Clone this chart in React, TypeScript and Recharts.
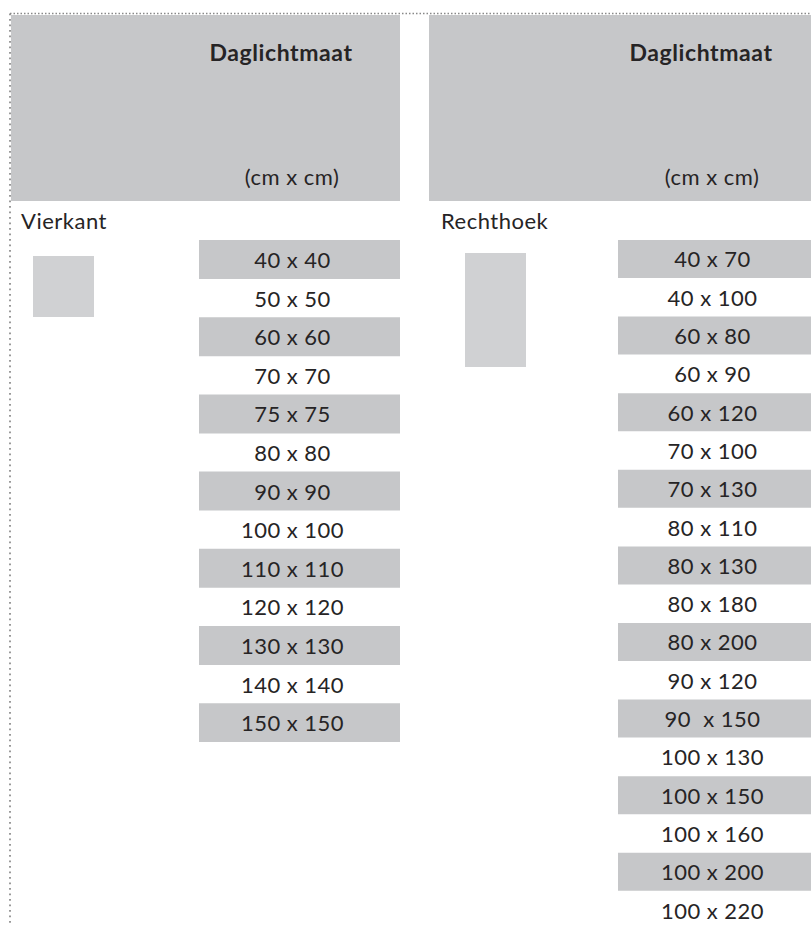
import React from "react";
import { BarChart, Bar, XAxis, YAxis, Cell, LabelList } from "recharts";

const headerTitle = "Daglichtmaat";
const headerUnit = "(cm x cm)";
const groupNames = ["Vierkant", "Rechthoek"];

const squareSizes = [
  "40 x 40", "50 x 50", "60 x 60", "70 x 70", "75 x 75", "80 x 80", "90 x 90",
  "100 x 100", "110 x 110", "120 x 120", "130 x 130", "140 x 140", "150 x 150",
];

const rectSizes = [
  "40 x 70", "40 x 100", "60 x 80", "60 x 90", "60 x 120", "70 x 100", "70 x 130",
  "80 x 110", "80 x 130", "80 x 180", "80 x 200", "90 x 120", "90  x 150",
  "100 x 130", "100 x 150", "100 x 160", "100 x 200", "100 x 220",
];

const GRAY = "#c6c7c9";
const ICON = "#d0d1d3";
const INK = "#262425";
const FONT = "Lato, 'Open Sans', sans-serif";

const toRows = (sizes: string[]) =>
  sizes.map((label, i) => ({ label, band: 1, shaded: i % 2 === 0 }));

type SizeTableProps = {
  sizes: string[];
  width: number;
  rowHeight: number;
  textShift: number;
};

function SizeTable({ sizes, width, rowHeight, textShift }: SizeTableProps) {
  const rows = toRows(sizes);
  return (
    <BarChart
      width={width}
      height={rowHeight * rows.length}
      data={rows}
      layout="vertical"
      margin={{ top: 0, right: 0, bottom: 0, left: 0 }}
      barCategoryGap={0}
      barGap={0}
    >
      <XAxis type="number" domain={[0, 1]} hide />
      <YAxis type="category" dataKey="label" hide />
      <Bar dataKey="band" isAnimationActive={false}>
        {rows.map((r, i) => (
          <Cell key={`row-${i}`} fill={r.shaded ? GRAY : "transparent"} />
        ))}
        <LabelList
          dataKey="label"
          content={(p: any) => (
            <text
              x={p.x + p.width / 2 + textShift}
              y={p.y + p.height / 2}
              textAnchor="middle"
              dominantBaseline="central"
              fontFamily={FONT}
              fontSize={22}
              letterSpacing={0.5}
              fill={INK}
              style={{ whiteSpace: "pre" }}
            >
              {p.value}
            </text>
          )}
        />
      </Bar>
    </BarChart>
  );
}

export default function App() {
  return (
    <div
      style={{
        position: "absolute",
        left: 0,
        top: 0,
        width: 811,
        height: 925,
        overflow: "hidden",
        background: "#fff",
      }}
    >
      <svg width={811} height={925} style={{ position: "absolute", left: 0, top: 0 }}>
        <line x1={10} y1={13.5} x2={811} y2={13.5} stroke="#888" strokeWidth={1.5} strokeDasharray="1.5 2" />
        <line x1={10} y1={13.5} x2={10} y2={925} stroke="#888" strokeWidth={1.7} strokeDasharray="1.7 3.8" />

        <rect x={11} y={15} width={389} height={186} fill={GRAY} />
        <rect x={429} y={15} width={382} height={186} fill={GRAY} />

        <text x={281} y={61} textAnchor="middle" fontFamily={FONT} fontWeight={700} fontSize={23} letterSpacing={0.6} fill={INK}>
          {headerTitle}
        </text>
        <text x={701} y={61} textAnchor="middle" fontFamily={FONT} fontWeight={700} fontSize={23} letterSpacing={0.6} fill={INK}>
          {headerTitle}
        </text>
        <text x={292} y={185} textAnchor="middle" fontFamily={FONT} fontSize={22} letterSpacing={0.5} fill={INK}>
          {headerUnit}
        </text>
        <text x={712} y={185} textAnchor="middle" fontFamily={FONT} fontSize={22} letterSpacing={0.5} fill={INK}>
          {headerUnit}
        </text>

        <text x={21} y={229} fontFamily={FONT} fontSize={22} letterSpacing={0.5} fill={INK}>
          {groupNames[0]}
        </text>
        <text x={441} y={229} fontFamily={FONT} fontSize={22} letterSpacing={0.5} fill={INK}>
          {groupNames[1]}
        </text>

        <rect x={33} y={256} width={61} height={61} fill={ICON} />
        <rect x={465} y={253} width={61} height={114} fill={ICON} />
      </svg>

      <div style={{ position: "absolute", left: 199, top: 240 }}>
        <SizeTable sizes={squareSizes} width={201} rowHeight={38.6} textShift={-7} />
      </div>
      <div style={{ position: "absolute", left: 618, top: 240 }}>
        <SizeTable sizes={rectSizes} width={193} rowHeight={38.3} textShift={-2} />
      </div>
    </div>
  );
}
